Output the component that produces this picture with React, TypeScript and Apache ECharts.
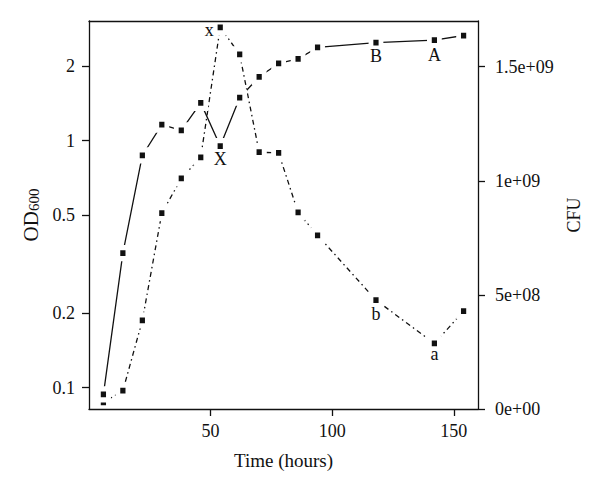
import React, { useEffect, useRef } from "react";
import * as echarts from "echarts";

const times = [6, 14, 22, 30, 38, 46, 54, 62, 70, 78, 86, 94, 118, 142, 154];
const od600 = [0.094, 0.35, 0.87, 1.16, 1.1, 1.42, 0.95, 1.49, 1.81, 2.05, 2.14, 2.38, 2.49, 2.55, 2.66];
const cfu = [2.9e7, 8.0e7, 3.88e8, 8.58e8, 1.01e9, 1.103e9, 1.672e9, 1.554e9, 1.125e9, 1.122e9, 8.61e8, 7.61e8, 4.77e8, 2.87e8, 4.29e8];
const odMarks = ["", "", "", "", "", "", "X", "", "", "", "", "", "B", "A", ""];
const cfuMarks = ["", "", "", "", "", "", "x", "", "", "", "", "", "b", "a", ""];
const xTicks = [50, 100, 150];
const odTicks = [0.1, 0.2, 0.5, 1, 2];
const odTickLabels = ["0.1", "0.2", "0.5", "1", "2"];
const cfuTicks = [0, 5e8, 1e9, 1.5e9];
const cfuTickLabels = ["0e+00", "5e+08", "1e+09", "1.5e+09"];

const X_MIN = 0.08;
const X_MAX = 159.92;
const OD_MIN = 0.082;
const OD_MAX = 3.045;
const CFU_MIN = 0;
const CFU_MAX = 1.7e9;

const FONT = '"Liberation Serif", "DejaVu Serif", serif';
const INK = "#111";

const labelOffsets: Record<string, number[]> = {
  X: [0, 13],
  B: [0, 13],
  A: [0, 15],
  x: [-11, 3],
  b: [0, 14],
  a: [0, 11],
};

function nearestLabel(v: number, ticks: number[], labels: string[]) {
  let best = 0;
  for (let i = 1; i < ticks.length; i++) {
    if (Math.abs(ticks[i] - v) < Math.abs(ticks[best] - v)) best = i;
  }
  return labels[best];
}

function buildData(ys: number[], marks: string[]) {
  return times.map((t, i) => {
    const item: any = { value: [t, ys[i]] };
    if (marks[i]) {
      item.label = {
        show: true,
        formatter: marks[i],
        position: "inside",
        offset: labelOffsets[marks[i]],
        color: INK,
        fontFamily: FONT,
        fontSize: 18,
      };
    }
    return item;
  });
}

export default function App() {
  const ref = useRef<HTMLDivElement>(null);
  useEffect(() => {
    if (!ref.current) return;
    const chart = echarts.init(ref.current, null, { renderer: "svg" });
    const axisLine = { show: true, onZero: false, lineStyle: { color: INK, width: 1.3 } };
    const logOdTicks = odTicks.map((v) => Math.log10(v));
    chart.setOption({
      animation: false,
      backgroundColor: "#fff",
      grid: { left: 89, right: 122, top: 21, bottom: 82, containLabel: false },
      xAxis: [
        {
          type: "value",
          position: "bottom",
          min: X_MIN,
          max: X_MAX,
          z: 10,
          axisLine,
          splitLine: { show: false },
          axisTick: { show: true, length: 7, customValues: xTicks, lineStyle: { color: INK, width: 1.3 } },
          axisLabel: {
            customValues: xTicks,
            margin: 13,
            color: INK,
            fontFamily: FONT,
            fontSize: 18,
            formatter: (v: number) => String(v),
          },
          name: "Time (hours)",
          nameLocation: "middle",
          nameGap: 42,
          nameTextStyle: { color: INK, fontFamily: FONT, fontSize: 19 },
        },
        {
          type: "value",
          position: "top",
          min: X_MIN,
          max: X_MAX,
          z: 10,
          axisLine,
          splitLine: { show: false },
          axisTick: { show: false },
          axisLabel: { show: false },
        },
      ],
      yAxis: [
        {
          type: "log",
          logBase: 10,
          position: "left",
          min: OD_MIN,
          max: OD_MAX,
          z: 10,
          axisLine,
          splitLine: { show: false },
          axisTick: { show: false },
          axisLabel: { show: false },
        },
        {
          type: "value",
          position: "right",
          min: CFU_MIN,
          max: CFU_MAX,
          z: 10,
          axisLine,
          splitLine: { show: false },
          axisTick: { show: true, length: 7, customValues: cfuTicks, lineStyle: { color: INK, width: 1.3 } },
          axisLabel: {
            customValues: cfuTicks,
            margin: 17,
            align: "left",
            color: INK,
            fontFamily: FONT,
            fontSize: 18,
            formatter: (v: number) => nearestLabel(v, cfuTicks, cfuTickLabels),
          },
          name: "CFU",
          nameLocation: "middle",
          nameGap: 74,
          nameTextStyle: { color: INK, fontFamily: FONT, fontSize: 18 },
        },
        {
          type: "value",
          position: "left",
          min: Math.log10(OD_MIN),
          max: Math.log10(OD_MAX),
          z: 10,
          axisLine: { show: false, onZero: false },
          splitLine: { show: false },
          axisTick: { show: true, length: 7, customValues: logOdTicks, lineStyle: { color: INK, width: 1.3 } },
          axisLabel: {
            customValues: logOdTicks,
            margin: 14,
            align: "right",
            color: INK,
            fontFamily: FONT,
            fontSize: 18,
            formatter: (v: number) => nearestLabel(v, logOdTicks, odTickLabels),
          },
          name: "{m|OD}{s|600}",
          nameLocation: "middle",
          nameGap: 46,
          nameTextStyle: {
            color: INK,
            fontFamily: FONT,
            rich: {
              m: { fontSize: 21, fontFamily: FONT, color: INK, verticalAlign: "bottom", lineHeight: 23 },
              s: { fontSize: 15, fontFamily: FONT, color: INK, verticalAlign: "bottom", lineHeight: 23 },
            },
          },
        },
      ],
      series: [
        {
          type: "line",
          name: "CFU",
          xAxisIndex: 0,
          yAxisIndex: 1,
          data: buildData(cfu, cfuMarks),
          symbol: "rect",
          symbolSize: [10, 11],
          itemStyle: { color: INK, borderColor: "#fff", borderWidth: 5 },
          lineStyle: { color: INK, width: 1.3, type: [1.5, 3.5, 5, 3.5] },
          emphasis: { disabled: true },
        },
        {
          type: "line",
          name: "OD600",
          xAxisIndex: 0,
          yAxisIndex: 0,
          data: buildData(od600, odMarks),
          symbol: "rect",
          symbolSize: [10, 11],
          itemStyle: { color: INK, borderColor: "#fff", borderWidth: 5 },
          lineStyle: { color: INK, width: 1.3, type: "solid" },
          emphasis: { disabled: true },
        },
      ],
    });
    return () => chart.dispose();
  }, []);
  return <div ref={ref} style={{ position: "absolute", left: 0, top: 0, width: 600, height: 491 }} />;
}
